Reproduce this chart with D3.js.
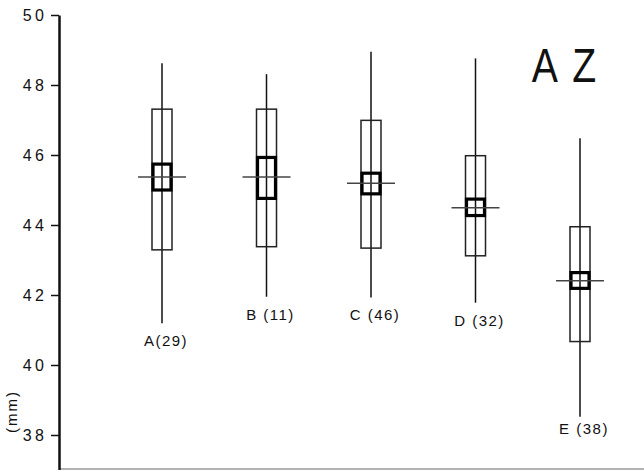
<!DOCTYPE html>
<html>
<head>
<meta charset="utf-8">
<script src="https://cdn.jsdelivr.net/npm/d3@7"></script>
<style>
  html, body { margin: 0; padding: 0; background: #fff; }
  svg { display: block; }
  text { font-family: "Liberation Sans", Arial, sans-serif; fill: #111; }
</style>
</head>
<body>
<svg id="chart" width="644" height="470"></svg>
<script>
// ---- data ----
const categories = ["A(29)", "B (11)", "C (46)", "D (32)", "E (38)"];
const whiskerHigh = [48.62, 48.31, 48.95, 48.76, 46.48];
const whiskerLow  = [41.19, 41.95, 41.93, 41.78, 38.52];
const boxHigh     = [47.31, 47.31, 46.99, 45.98, 43.95];
const boxLow      = [43.29, 43.38, 43.34, 43.12, 40.67];
const innerHigh   = [45.74, 45.93, 45.48, 44.74, 42.64];
const innerLow    = [45.00, 44.76, 44.89, 44.27, 42.19];
const means       = [45.37, 45.37, 45.19, 44.49, 42.41];
const yTicks = [38, 40, 42, 44, 46, 48, 50];
const yLabel = "(mm)";
const title = "AZ";

const data = categories.map((c, i) => ({
  cat: c, hi: whiskerHigh[i], lo: whiskerLow[i],
  bHi: boxHigh[i], bLo: boxLow[i], iHi: innerHigh[i], iLo: innerLow[i], mean: means[i]
}));

const svg = d3.select("#chart");
const axisX = 59;
const y = d3.scaleLinear().domain([37, 50]).range([470, 15]);
const x = d3.scalePoint().domain(categories).range([162, 580]);
const boxW = 20, meanW = 48;

// bottom baseline
svg.append("line")
  .attr("x1", axisX).attr("x2", 644)
  .attr("y1", y(37) - 1).attr("y2", y(37) - 1)
  .attr("stroke", "#999").attr("stroke-width", 1.5);

// y axis
const yAxis = d3.axisLeft(y).tickValues(yTicks).tickSize(8).tickSizeOuter(0).tickPadding(6);
const gy = svg.append("g").attr("transform", `translate(${axisX},0)`).call(yAxis);
gy.select(".domain").attr("stroke", "#111").attr("stroke-width", 2.5);
gy.selectAll(".tick line").attr("stroke", "#111").attr("stroke-width", 1.5);
gy.selectAll(".tick text")
  .attr("font-size", 16)
  .attr("letter-spacing", "3.5px")
  .attr("dx", "2.5px")
  .style("font-family", "'Liberation Sans', Arial, sans-serif")
  .attr("fill", "#111");

// y label
svg.append("text")
  .attr("transform", `translate(17,${(y(38) + y(39)) / 2 - 6}) rotate(-90)`)
  .attr("text-anchor", "middle")
  .attr("font-size", 15)
  .attr("letter-spacing", "2px")
  .text(yLabel);

const g = svg.append("g");
const groups = g.selectAll("g.item").data(data).join("g").attr("class", "item");

// whiskers
groups.append("line")
  .attr("x1", d => x(d.cat)).attr("x2", d => x(d.cat))
  .attr("y1", d => y(d.hi)).attr("y2", d => y(d.lo))
  .attr("stroke", "#111").attr("stroke-width", 1.5);

// outer boxes
groups.append("rect")
  .attr("x", d => x(d.cat) - boxW / 2).attr("width", boxW)
  .attr("y", d => y(d.bHi)).attr("height", d => y(d.bLo) - y(d.bHi))
  .attr("fill", "none").attr("stroke", "#222").attr("stroke-width", 1.5);

// inner boxes
groups.append("rect")
  .attr("x", d => x(d.cat) - (boxW - 2) / 2).attr("width", boxW - 2)
  .attr("y", d => y(d.iHi)).attr("height", d => y(d.iLo) - y(d.iHi))
  .attr("fill", "none").attr("stroke", "#000").attr("stroke-width", 3.2);

// mean lines
groups.append("line")
  .attr("x1", d => x(d.cat) - meanW / 2).attr("x2", d => x(d.cat) + meanW / 2)
  .attr("y1", d => y(d.mean)).attr("y2", d => y(d.mean))
  .attr("stroke", "#444").attr("stroke-width", 1.5);

// category labels
groups.append("text")
  .attr("x", d => x(d.cat) + 4)
  .attr("y", (d, i) => y(d.lo) + (i === categories.length - 1 ? 17 : 23))
  .attr("text-anchor", "middle")
  .attr("font-size", 15)
  .attr("letter-spacing", "1.5px")
  .text(d => d.cat);

// title
svg.append("text")
  .attr("transform", "translate(564,82) scale(0.8,1)")
  .attr("text-anchor", "middle")
  .attr("font-size", 49)
  .attr("letter-spacing", "18px")
  .attr("dx", "9px")
  .text(title);
</script>
</body>
</html>
